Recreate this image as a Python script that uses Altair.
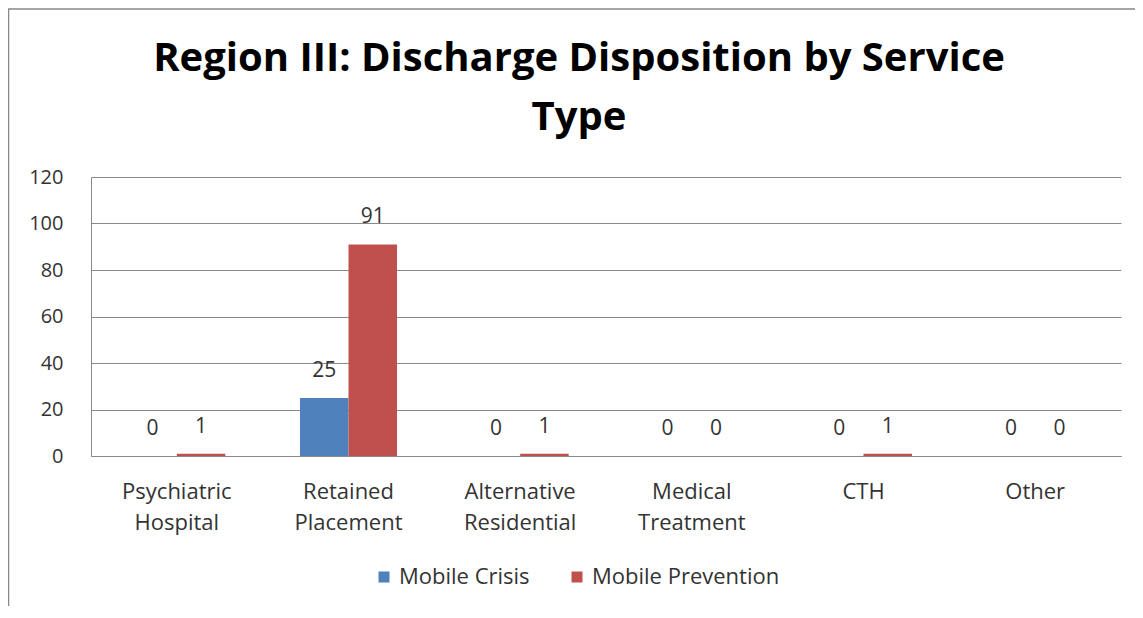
import altair as alt
import pandas as pd

categories = ["Psychiatric Hospital", "Retained Placement", "Alternative Residential",
              "Medical Treatment", "CTH", "Other"]
series = ["Mobile Crisis", "Mobile Prevention"]
mobile_crisis = [0, 25, 0, 0, 0, 0]
mobile_prevention = [1, 91, 1, 0, 1, 0]
colors = ["#4F81BD", "#C0504D"]
y_ticks = [0, 20, 40, 60, 80, 100, 120]

rows = []
for c, a, b in zip(categories, mobile_crisis, mobile_prevention):
    rows.append({"category": c, "series": series[0], "value": a})
    rows.append({"category": c, "series": series[1], "value": b})
df = pd.DataFrame(rows)

FONT = "Open Sans"
W, H = 1030, 279

x = alt.X("category:N", sort=categories,
          scale=alt.Scale(paddingInner=0.435, paddingOuter=0.2175),
          axis=alt.Axis(title=None, labelAngle=0, ticks=False, labelFontSize=22,
                        labelFont=FONT, labelColor="#333333", labelPadding=35,
                        labelLineHeight=31, labelExpr="split(datum.label, ' ')",
                        domainColor="#888888", labelBaseline="middle"))
y = alt.Y("value:Q", scale=alt.Scale(domain=[0, 120]),
          axis=alt.Axis(title=None, values=y_ticks, ticks=False, labelFontSize=20,
                        labelFont=FONT, labelColor="#333333", labelPadding=28,
                        gridColor="#888888", domainColor="#888888"))
xo = alt.XOffset("series:N", sort=series)

base = alt.Chart(df)
bars = base.mark_bar().encode(
    x=x, y=y, xOffset=xo,
    color=alt.Color("series:N", sort=series,
                    scale=alt.Scale(domain=series, range=colors),
                    legend=alt.Legend(title=None, orient="none", direction="horizontal",
                                      legendX=282, legendY=389, symbolType="square",
                                      symbolSize=121, symbolStrokeWidth=0,
                                      labelFontSize=22, labelFont=FONT, labelLimit=0,
                                      labelColor="#333333", labelOffset=4,
                                      columnPadding=36)),
)
labels = base.mark_text(dy=-27, fontSize=21, font=FONT, color="#333333",
                        baseline="middle").encode(
    x=x, y=y, xOffset=xo, text="value:Q")

frame = alt.Chart(pd.DataFrame({"a": [0]})).mark_rect(
    fill=None, stroke="#888888", strokeWidth=1.5, clip=False).encode(
    x=alt.value(-82.5), x2=alt.value(W + 60), y=alt.value(-168), y2=alt.value(H + 300))

chart = alt.layer(frame, bars, labels).properties(
    width=W, height=H,
    padding={"left": 83, "top": 169, "right": 14, "bottom": 150},
    autosize=alt.AutoSizeParams(type="none"),
    title=alt.TitleParams(["Region III: Discharge Disposition by Service", "Type"],
                          font=FONT, fontSize=40, fontWeight="bold", color="#000000",
                          anchor="middle", frame="group", dx=-27, lineHeight=59,
                          baseline="bottom", offset=-170),
).configure_view(stroke=None)

chart.save("out.html", embed_options={"renderer": "svg", "actions": False})
